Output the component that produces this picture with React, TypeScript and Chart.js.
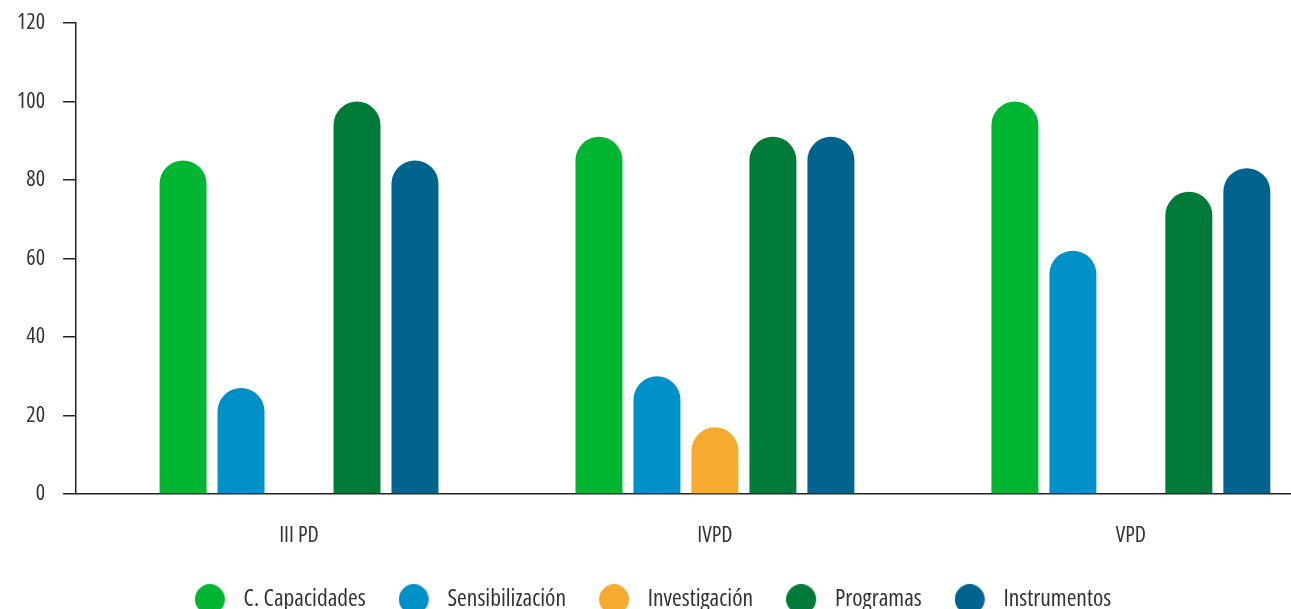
import React, { useEffect, useRef } from 'react';
import { Chart, registerables } from 'chart.js';

Chart.register(...registerables);

const categories = ['III PD', 'IVPD', 'VPD'];
const seriesNames = ['C. Capacidades', 'Sensibilización', 'Investigación', 'Programas', 'Instrumentos'];
const capacidades = [85, 91, 100];
const sensibilizacion = [27, 30, 62];
const investigacion = [null, 17, null];
const programas = [100, 91, 77];
const instrumentos = [85, 91, 83];
const yTicks = [0, 20, 40, 60, 80, 100, 120];
const colors = ['#00B531', '#0090C8', '#F5AB31', '#007A38', '#00638E'];

const FONT = "'Open Sans', 'Noto Sans', sans-serif";
const TEXT = '#333333';
const AXIS = '#222222';

function makeDot(color: string): HTMLCanvasElement {
  const c = document.createElement('canvas');
  c.width = 37;
  c.height = 30;
  const ctx = c.getContext('2d')!;
  ctx.fillStyle = color;
  ctx.beginPath();
  ctx.arc(15, 15, 15, 0, Math.PI * 2);
  ctx.fill();
  return c;
}

export default function App() {
  const ref = useRef<HTMLCanvasElement | null>(null);

  useEffect(() => {
    if (!ref.current) return;
    const series = [capacidades, sensibilizacion, investigacion, programas, instrumentos];
    const dots = colors.map(makeDot);
    const tickFont = { family: FONT, size: 22, weight: 'condensed 400' } as any;
    const legendFont = { family: FONT, size: 23.5, weight: 'condensed 400' } as any;
    const chart = new Chart(ref.current, {
      type: 'bar',
      data: {
        datasets: series.map((s, i) => ({
          label: seriesNames[i],
          data: s.map((v, j) => ({ x: j, y: v })),
          backgroundColor: colors[i],
          borderRadius: { topLeft: 100, topRight: 100, bottomLeft: 0, bottomRight: 0 },
          borderSkipped: 'start',
          categoryPercentage: 0.697,
          barPercentage: 0.81,
        })),
      } as any,
      options: {
        animation: false,
        responsive: false,
        devicePixelRatio: 1,
        layout: { padding: { top: 23, left: -1, right: -16, bottom: 0 } },
        scales: {
          x: {
            type: 'linear',
            offset: false,
            min: -0.536,
            max: 2.385,
            afterBuildTicks: (s: any) => {
              s.ticks = categories.map((_, i) => ({ value: i }));
            },
            afterFit: (s: any) => {
              s.height = 60.5;
            },
            ticks: {
              callback: (v: any) => categories[v as number] ?? '',
              font: tickFont,
              color: TEXT,
              padding: 29,
              autoSkip: false,
              maxRotation: 0,
            },
            grid: { display: false, drawTicks: false, offset: false },
            border: { display: true, color: AXIS, width: 1.5 },
          },
          y: {
            min: 0,
            max: 120,
            afterBuildTicks: (s: any) => {
              s.ticks = yTicks.map((v) => ({ value: v }));
            },
            afterFit: (s: any) => {
              s.paddingTop = 0;
            },
            ticks: { font: tickFont, color: TEXT, padding: 18 },
            grid: { drawOnChartArea: false, drawTicks: true, tickLength: 13, color: AXIS, lineWidth: 1.5 },
            border: { display: true, color: AXIS, width: 1.5 },
          },
        } as any,
        plugins: {
          tooltip: { enabled: false },
          legend: {
            position: 'bottom',
            labels: {
              usePointStyle: true,
              pointStyleWidth: 37,
              padding: 33,
              font: legendFont,
              color: TEXT,
              generateLabels: (c: any) =>
                (Chart.defaults.plugins.legend.labels.generateLabels as any)(c).map((l: any, i: number) => ({
                  ...l,
                  pointStyle: dots[i],
                })),
            },
          },
        },
      },
    });
    return () => chart.destroy();
  }, []);

  return (
    <div style={{ position: 'fixed', left: 0, top: 0, width: 1291, height: 609, overflow: 'hidden', background: '#fff' }}>
      <canvas ref={ref} width={1291} height={621} style={{ display: 'block' }} />
    </div>
  );
}
